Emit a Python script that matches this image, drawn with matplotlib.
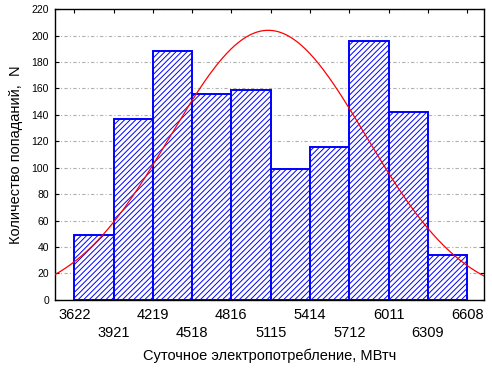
import numpy as np
import matplotlib
matplotlib.use("Agg")
import matplotlib.pyplot as plt

# bin edges and counts
edges = [3622, 3921, 4219, 4518, 4816, 5115, 5414, 5712, 6011, 6309, 6608]
counts = [49, 137, 188, 156, 159, 99, 116, 196, 142, 34]
yticks = list(range(0, 221, 20))

# fitted normal curve parameters
fit_mean = 5096
fit_std = 745

plt.rcParams["font.family"] = ["Liberation Sans", "DejaVu Sans"]
plt.rcParams["hatch.linewidth"] = 0.7
plt.rcParams["hatch.color"] = "#0000ff"

fig = plt.figure(figsize=(4.92, 3.68), dpi=100)
ax = fig.add_axes([0.111, 0.185, 0.873, 0.79])

widths = np.diff(edges)
ax.bar(edges[:-1], counts, width=widths, align="edge", color="white",
       edgecolor="#0000ff", linewidth=1.4, hatch="//////", zorder=2)

xlim = (3473, 6737)
xs = np.linspace(xlim[0], xlim[1], 400)
scale = sum(counts) * np.mean(widths)
ys = scale / (fit_std * np.sqrt(2 * np.pi)) * np.exp(-0.5 * ((xs - fit_mean) / fit_std) ** 2)
ax.plot(xs, ys, color="red", linewidth=0.9, zorder=3)

ax.set_xlim(*xlim)
ax.set_ylim(0, 220)
ax.set_yticks(yticks)
ax.set_xticks(edges)
ax.set_xticklabels([str(e) if i % 2 == 0 else "\n" + str(e) for i, e in enumerate(edges)],
                   fontsize=10.5, linespacing=1.35)
ax.tick_params(axis="y", labelsize=7.5, direction="in", length=3, right=True, pad=4)
ax.tick_params(axis="x", direction="in", length=3, top=True, pad=6)
ax.yaxis.grid(True, color="#b0b0b0", linestyle=(0, (3, 2, 1, 2)), linewidth=0.8, zorder=0)
ax.set_axisbelow(True)
for s in ax.spines.values():
    s.set_linewidth(1.0)

ax.set_xlabel("Суточное электропотребление, МВтч", fontsize=10.5, labelpad=6)
ax.set_ylabel("Количество попаданий,  N", fontsize=10.5, labelpad=6)

fig.savefig("out.png", dpi=100)
